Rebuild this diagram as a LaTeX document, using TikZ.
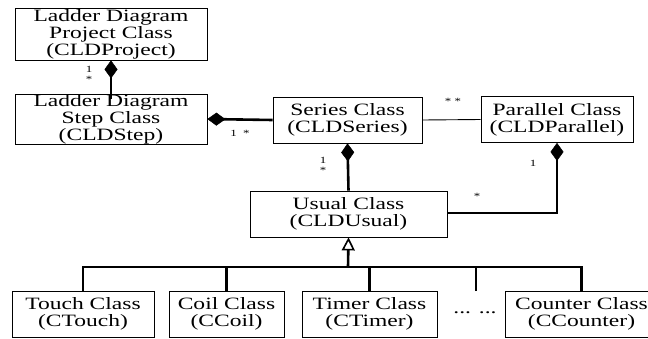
\documentclass[tikz,border=0pt]{standalone}
\usepackage{fontspec}
\setmainfont{Liberation Serif}
\newfontfamily\boxfont[FakeStretch=1.36]{Liberation Serif}
\usetikzlibrary{arrows.meta}
\tikzset{
  cls/.style={draw=black, line width=0.8pt, inner sep=0pt, align=center,
    font=\boxfont\fontsize{17.3}{17}\selectfont, minimum height=#1},
  cls/.default=46pt,
  assoc/.style={line width=2.6pt},
  thin/.style={line width=0.9pt},
  dia/.style={{Diamond[length=18pt,width=13pt,line width=0.5pt]}-},
  mult/.style={inner sep=0pt, font=\boxfont\fontsize{9.5}{9}\selectfont}
}
\begin{document}
\begin{tikzpicture}[x=1pt,y=-1pt]
\useasboundingbox (0,0) rectangle (648,338);
% classes
\node[cls=52pt, minimum width=192pt] (proj) at (111,34) {Ladder Diagram\\Project Class\\(CLDProject)};
\node[cls=50pt, minimum width=192pt] (step) at (111,119) {Ladder Diagram\\Step Class\\(CLDStep)};
\node[cls, minimum width=149pt] (series) at (347.5,120) {Series Class\\(CLDSeries)};
\node[cls, minimum width=152pt] (par) at (557,119.5) {Parallel Class\\(CLDParallel)};
\node[cls, minimum width=197pt] (usual) at (348.5,214) {Usual Class\\(CLDUsual)};
\node[cls, minimum width=142pt] (touch) at (83,314) {Touch Class\\(CTouch)};
\node[cls, minimum width=115pt] (coil) at (226.5,314) {Coil Class\\(CCoil)};
\node[cls, minimum width=135pt] (timer) at (369.5,314) {Timer Class\\(CTimer)};
\node[cls, minimum width=153pt] (counter) at (581.5,314) {Counter Class\\(CCounter)};
\node[inner sep=0pt, font=\boxfont\fontsize{17.3}{17}\selectfont] (dots) at (475,313) {... ...};
% coordinates
\coordinate (bus) at (348,267);
\coordinate (dotdrop) at (476,291);
\coordinate (pcorner) at (557,213);
% associations
\draw[assoc, dia] (proj.south) -- ([yshift=-5pt]step.north);
\draw[assoc, dia] (step.east) -- (series.west);
\draw[thin] (series.east) -- (par.west);
\draw[assoc, dia] (series.south) -- (usual.north);
\draw[assoc, dia] (par.south) -- (pcorner) -- (pcorner -| usual.east);
% inheritance
\draw[assoc, {Triangle[open,length=13pt,width=13pt,line width=1.6pt]}-] (usual.south) -- (bus);
\draw[assoc] (touch.north) |- (bus) -| (counter.north);
\draw[assoc] (coil.north) -- (coil.north |- bus);
\draw[assoc] (timer.north) -- (timer.north |- bus);
\draw[assoc] (dotdrop) -- (dotdrop |- bus);
% multiplicities
\node[mult] (m1a) at (89,69) {1};
\node[mult] (m1b) at (89,79) {*};
\node[mult] (m2) at (240,133) {1\ \ *};
\node[mult] (m3) at (453,101) {* *};
\node[mult] (m4a) at (323,160) {1};
\node[mult] (m4b) at (323,170) {*};
\node[mult] (m5) at (533,163) {1};
\node[mult] (m6) at (477,196) {*};
\end{tikzpicture}
\end{document}
